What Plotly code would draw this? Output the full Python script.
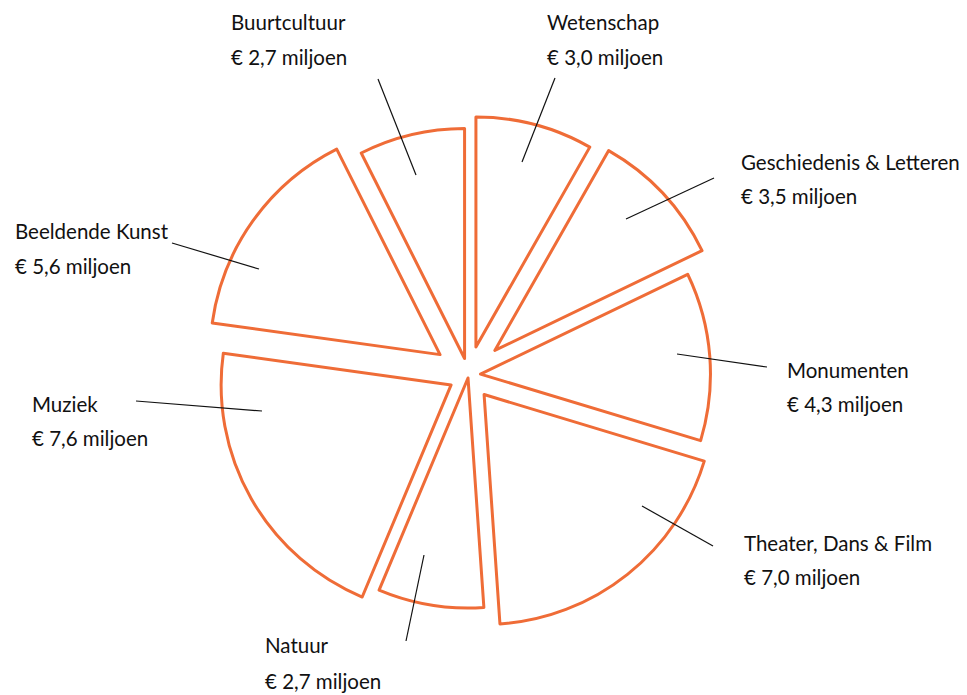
import plotly.graph_objects as go

# ---------------- data ----------------
categories = ["Wetenschap", "Geschiedenis & Letteren", "Monumenten",
              "Theater, Dans & Film", "Natuur", "Muziek",
              "Beeldende Kunst", "Buurtcultuur"]
values = [3.0, 3.5, 4.3, 7.0, 2.7, 7.6, 5.6, 2.7]   # miljoen euro
value_labels = ["€ " + f"{v:.1f}".replace(".", ",") + " miljoen" for v in values]

# ---------------- layout / style ----------------
W, H = 967, 695
CX, CY, R = 468.5, 375.0, 230.0            # pie centre and radius in px
pull_px = [29, 36, 12, 25, 3, 20, 35, 17]  # explode distance per slice (px)
ORANGE = "#EF6C37"
FONT = "Lato"
FS = 20.5

# label placement: left x, y of first line, y of second line (px)
label_pos = {
    "Wetenschap": (545, 22, 57),
    "Geschiedenis & Letteren": (739, 162, 196),
    "Monumenten": (785, 370, 404),
    "Theater, Dans & Film": (742, 543, 577),
    "Natuur": (263, 645, 681),
    "Muziek": (30, 404, 438),
    "Beeldende Kunst": (13, 231, 266),
    "Buurtcultuur": (229, 22, 57),
}
# leader lines: (outer x, outer y, inner x, inner y) in px
leader = {
    "Wetenschap": (555, 78, 522, 162),
    "Geschiedenis & Letteren": (714, 178, 626, 219),
    "Monumenten": (767, 367, 677, 354),
    "Theater, Dans & Film": (713, 546, 642, 506),
    "Natuur": (406, 641, 424, 555),
    "Muziek": (136, 401, 262, 411),
    "Beeldende Kunst": (172, 243, 259, 269),
    "Buurtcultuur": (378, 79, 416, 175),
}

pulls = [p / R for p in pull_px]
ry = R * (1 + max(pulls))
y0 = 1 - (CY + ry) / H
y1 = y0 + 2 * ry / H
x0 = (CX - ry) / W
x1 = (CX + ry) / W

fig = go.Figure(go.Pie(
    labels=categories,
    values=values,
    sort=False,
    direction="clockwise",
    rotation=0,
    pull=pulls,
    textinfo="none",
    hoverinfo="label+value",
    marker=dict(colors=["white"] * len(values),
                line=dict(color=ORANGE, width=3)),
    domain=dict(x=[x0, x1], y=[y0, y1]),
    showlegend=False,
))

px = lambda x: x / W
py = lambda y: 1 - y / H

shapes = []
annotations = []
for cat, vlab in zip(categories, value_labels):
    lx, ly1, ly2 = label_pos[cat]
    for txt, yy in ((cat, ly1), (vlab, ly2)):
        annotations.append(dict(
            x=px(lx), y=py(yy), xref="paper", yref="paper",
            text=txt, showarrow=False, xanchor="left", yanchor="middle",
            font=dict(family=FONT, size=FS, color="#111111"),
        ))
    ax0, ay0, ax1, ay1 = leader[cat]
    shapes.append(dict(type="line", xref="paper", yref="paper",
                       x0=px(ax0), y0=py(ay0), x1=px(ax1), y1=py(ay1),
                       line=dict(color="#111111", width=1.2)))

fig.update_layout(
    width=W, height=H,
    margin=dict(l=0, r=0, t=0, b=0),
    paper_bgcolor="white", plot_bgcolor="white",
    shapes=shapes, annotations=annotations,
)

fig.write_html("out.html", config={"displayModeBar": False},
               post_script="document.body.style.margin='0';")
